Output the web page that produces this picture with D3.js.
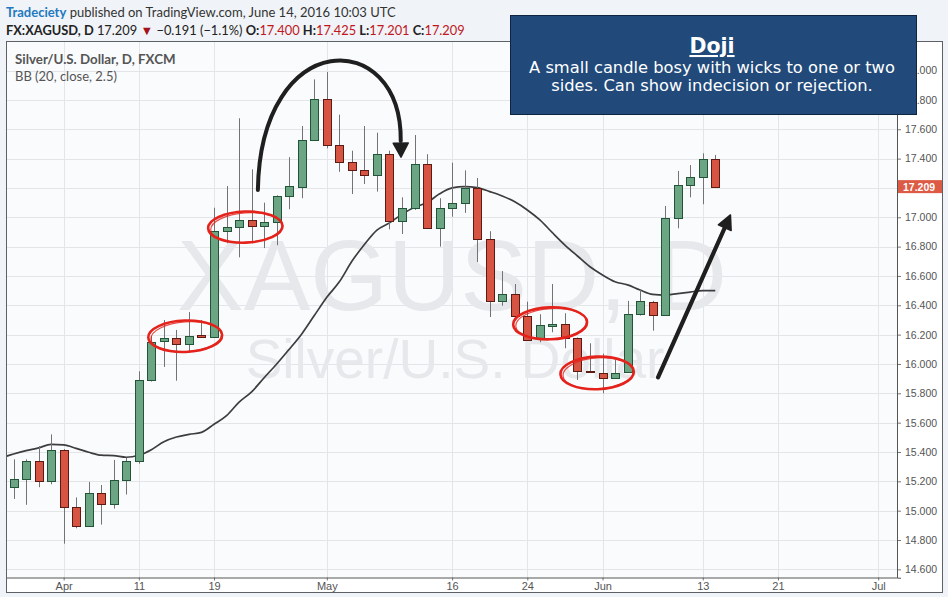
<!DOCTYPE html>
<html><head><meta charset="utf-8">
<script src="https://cdn.jsdelivr.net/npm/d3@7/dist/d3.min.js"></script>
<style>
html,body{margin:0;padding:0;background:#f0f3f7;}
svg{display:block;}
</style></head><body>
<svg id="c" width="948" height="597"></svg>
<script>
// ---------------- DATA ----------------
const dates = ["2016-03-28","2016-03-29","2016-03-30","2016-03-31","2016-04-01",
"2016-04-04","2016-04-05","2016-04-06","2016-04-07","2016-04-08",
"2016-04-11","2016-04-12","2016-04-13","2016-04-14","2016-04-15",
"2016-04-18","2016-04-19","2016-04-20","2016-04-21","2016-04-22",
"2016-04-25","2016-04-26","2016-04-27","2016-04-28","2016-04-29",
"2016-05-02","2016-05-03","2016-05-04","2016-05-05","2016-05-06",
"2016-05-09","2016-05-10","2016-05-11","2016-05-12","2016-05-13",
"2016-05-16","2016-05-17","2016-05-18","2016-05-19","2016-05-20",
"2016-05-23","2016-05-24","2016-05-25","2016-05-26","2016-05-27",
"2016-05-30","2016-05-31","2016-06-01","2016-06-02","2016-06-03",
"2016-06-06","2016-06-07","2016-06-08","2016-06-09","2016-06-10",
"2016-06-13","2016-06-14"];
const openVals  = [15.164,15.214,15.337,15.200,15.412, 15.023,14.894,15.119,15.044,15.209,
 15.337,15.891,16.157,16.175,16.134, 16.195,16.186,16.909,16.932,16.980,
 16.939,16.966,17.145,17.209,17.527, 17.804,17.490,17.375,17.320,17.286,
 17.430,16.973,17.061,17.361,16.925, 17.061,17.095,17.200,16.850,16.427,
 16.475,16.325,16.179,16.260,16.270, 16.175,15.950,15.940,15.905,15.943,
 16.339,16.425,16.334,16.993,17.218, 17.273,17.400];
const highVals  = [15.350,15.350,15.440,15.520,15.420, 15.090,15.196,15.175,15.346,15.360,
 15.950,16.190,16.300,16.232,16.354, 16.300,17.065,17.213,17.675,17.327,
 17.100,17.150,17.410,17.622,17.940, 17.990,17.700,17.454,17.622,17.577,
 17.454,17.136,17.561,17.430,17.130, 17.372,17.320,17.268,16.905,16.634,
 16.545,16.425,16.339,16.545,16.346, 16.180,16.141,16.070,16.027,16.430,
 16.504,16.430,17.077,17.316,17.356, 17.436,17.425];
const lowVals   = [15.080,15.040,15.160,15.180,14.775, 14.880,14.890,14.905,15.014,15.110,
 15.320,15.880,15.980,15.886,16.077, 16.180,16.180,16.823,16.727,16.823,
 16.790,16.810,17.055,17.130,17.520, 17.470,17.310,17.159,17.227,17.175,
 16.918,16.886,17.050,16.920,16.800, 17.004,17.030,16.695,16.320,16.397,
 16.320,16.160,16.148,16.216,16.107, 15.891,15.945,15.800,15.900,15.940,
 16.330,16.227,16.330,16.925,17.136, 17.089,17.201];
const closeVals = [15.214,15.337,15.200,15.412,15.023, 14.894,15.119,15.044,15.209,15.337,
 15.891,16.152,16.175,16.134,16.190, 16.185,16.909,16.932,16.980,16.939,
 16.966,17.145,17.213,17.527,17.804, 17.490,17.375,17.320,17.286,17.430,
 16.973,17.061,17.361,16.925,17.061, 17.095,17.200,16.850,16.427,16.475,
 16.325,16.166,16.264,16.270,16.175, 15.952,15.945,15.905,15.940,16.339,
 16.427,16.334,16.993,17.218,17.273, 17.400,17.209];
// BB basis (20 SMA) line, starting one bar before the first candle
const maStartIndex = -1;
const maValues = [15.360,15.386,15.409,15.428,15.452,15.448,15.425,15.398,15.378,15.375,
 15.364,15.378,15.416,15.470,15.502,15.520,15.534,15.589,15.648,15.740,
 15.810,15.906,16.000,16.100,16.205,16.330,16.455,16.560,16.700,16.815,
 16.913,16.962,17.020,17.068,17.100,17.160,17.200,17.209,17.202,17.175,
 17.145,17.106,17.050,16.982,16.895,16.811,16.736,16.663,16.607,16.561,
 16.539,16.504,16.475,16.470,16.480,16.490,16.500,16.500];
const yTicks = [14.6,14.8,15.0,15.2,15.4,15.6,15.8,16.0,16.2,16.4,16.6,16.8,17.0,17.2,17.4,17.6,17.8,18.0];
const xTickDates  = ["2016-04-01","2016-04-11","2016-04-19","2016-05-02","2016-05-16","2016-05-24","2016-06-01","2016-06-13","2016-06-21","2016-07-01"];
const xTickLabels = ["Apr","11","19","May","16","24","Jun","13","21","Jul"];
const lastPrice = 17.209;

// ---------------- HELPERS ----------------
const day0 = new Date(dates[0]+"T00:00:00Z");
function tIndex(s){
  const d = new Date(s+"T00:00:00Z"); let n = 0;
  for (let t = new Date(day0); t < d; t.setUTCDate(t.getUTCDate()+1)) {
    const w = t.getUTCDay(); if (w !== 0 && w !== 6) n++;
  }
  return n;
}
const candles = dates.map((d,i)=>({i:tIndex(d), o:openVals[i], h:highVals[i], l:lowVals[i], c:closeVals[i]}));
const maPts = maValues.map((v,k)=>({i:maStartIndex+k, v}));

// ---------------- LAYOUT ----------------
const svg = d3.select("#c");
const P = {l:7, r:897, t:42, b:577.5};
const x = d3.scaleLinear().domain([-0.52, 70.5]).range([P.l, P.r]);
const y = d3.scaleLinear().domain([14.543, 18.197]).range([577.7, 41.7]);

svg.append("rect").attr("width",948).attr("height",597).attr("fill","#f0f3f7");
svg.append("rect").attr("x",6.5).attr("y",41.5).attr("width",936).attr("height",551)
  .attr("fill","#ffffff").attr("stroke","#5d6166").attr("stroke-width",1);
svg.append("rect").attr("x",P.l).attr("y",P.t).attr("width",P.r-P.l).attr("height",P.b-P.t).attr("fill","#fafbfd");

svg.append("defs").append("clipPath").attr("id","pc").append("rect")
  .attr("x",P.l).attr("y",P.t).attr("width",P.r-P.l).attr("height",P.b-P.t);
const g = svg.append("g").attr("clip-path","url(#pc)");

// grid
g.selectAll(".hg").data(yTicks).join("line")
  .attr("x1",P.l).attr("x2",P.r)
  .attr("y1",d=>Math.round(y(d))+0.5).attr("y2",d=>Math.round(y(d))+0.5)
  .attr("stroke","#e3e5e9").attr("stroke-width",1);
const xTickIdx = xTickDates.map(tIndex);
g.selectAll(".vg").data(xTickIdx).join("line")
  .attr("y1",P.t).attr("y2",P.b)
  .attr("x1",d=>Math.round(x(d))+0.5).attr("x2",d=>Math.round(x(d))+0.5)
  .attr("stroke","#e3e5e9").attr("stroke-width",1);

// watermark
const cx = (P.l+P.r)/2;
g.append("text").attr("x",cx).attr("y",310).attr("text-anchor","middle")
  .attr("font-family","Liberation Sans, Arial, sans-serif").attr("font-size",100)
  .attr("fill","#e6e8eb").text("XAGUSD, D");
g.append("text").attr("x",cx+3).attr("y",378).attr("text-anchor","middle")
  .attr("font-family","Liberation Sans, Arial, sans-serif").attr("font-size",55)
  .attr("fill","#e6e8eb").text("Silver/U.S. Dollar");

// MA line
g.append("path").datum(maPts)
  .attr("d", d3.line().x(d=>x(d.i)).y(d=>y(d.v)).curve(d3.curveMonotoneX))
  .attr("fill","none").attr("stroke","#3d3d3f").attr("stroke-width",1.7);

// candles
const up = {fill:"#6ba583", stroke:"#225437"}, dn = {fill:"#d75442", stroke:"#5b1a13"};
const cg = g.selectAll(".cd").data(candles).join("g");
cg.append("line")
  .attr("x1",d=>Math.round(x(d.i))+0.5).attr("x2",d=>Math.round(x(d.i))+0.5)
  .attr("y1",d=>y(d.h)).attr("y2",d=>y(d.l))
  .attr("stroke","#737375").attr("stroke-width",1);
cg.append("rect")
  .attr("x",d=>Math.round(x(d.i))-3.5).attr("width",8)
  .attr("y",d=>Math.round(y(Math.max(d.o,d.c)))+0.5)
  .attr("height",d=>Math.max(1, Math.round(y(Math.min(d.o,d.c)))-Math.round(y(Math.max(d.o,d.c)))))
  .attr("fill",d=>d.c>=d.o?up.fill:dn.fill)
  .attr("stroke",d=>d.c>=d.o?up.stroke:dn.stroke).attr("stroke-width",1);

// ---------------- AXES ----------------
const ya = svg.append("g").attr("transform",`translate(${P.r},0)`)
  .call(d3.axisRight(y).tickValues(yTicks).tickFormat(d3.format(".3f")).tickSize(4).tickPadding(4));
ya.select(".domain").attr("stroke","#555");
ya.selectAll(".tick line").attr("stroke","#777");
ya.selectAll(".tick text").attr("fill","#555").attr("font-size",10.5).attr("font-family","Liberation Sans, Arial, sans-serif");
// the tick label hidden under the last-price label
ya.selectAll(".tick").filter(d=>Math.abs(y(d)-y(lastPrice))<12).select("text").remove();
svg.append("line").attr("x1",P.r+0.5).attr("x2",P.r+0.5).attr("y1",42).attr("y2",578).attr("stroke","#555");

const xa = svg.append("g").attr("transform",`translate(0,${P.b})`)
  .call(d3.axisBottom(x).tickValues(xTickIdx).tickFormat((d,i)=>xTickLabels[i]).tickSize(3).tickPadding(2));
xa.select(".domain").remove();
xa.selectAll(".tick line").attr("stroke","#777");
xa.selectAll(".tick text").attr("fill","#555").attr("font-size",11).attr("font-family","Liberation Sans, Arial, sans-serif");
svg.append("line").attr("x1",P.l).attr("x2",P.r).attr("y1",P.b+0.5).attr("y2",P.b+0.5).attr("stroke","#555");

// last price label
const lp = y(lastPrice);
svg.append("rect").attr("x",P.r+1).attr("y",lp-6.5).attr("width",942-P.r-1).attr("height",13).attr("fill","#dd5a44");
svg.append("text").attr("x",P.r+6).attr("y",lp+4).attr("fill","#fff").attr("font-weight","bold")
  .attr("font-size",10.5).attr("font-family","Liberation Sans, Arial, sans-serif").text(d3.format(".3f")(lastPrice));

// ---------------- ANNOTATIONS (data units) ----------------
const ellipses = [
  {i:13.70, p:16.189, ri:2.95, rp:0.107},
  {i:18.50, p:16.933, ri:2.97, rp:0.106},
  {i:42.82, p:16.277, ri:2.95, rp:0.109},
  {i:46.57, p:15.939, ri:2.93, rp:0.111}
];
ellipses.forEach(e=>{
  const ex=x(e.i), ey=y(e.p), rx=x(e.i+e.ri)-ex, ry=y(e.p-e.rp)-ey;
  svg.append("ellipse").attr("cx",ex).attr("cy",ey).attr("rx",rx).attr("ry",ry)
    .attr("transform",`rotate(-2,${ex},${ey})`)
    .attr("fill","none").attr("stroke","#e4231c").attr("stroke-width",2.6);
  svg.append("ellipse").attr("cx",ex+1).attr("cy",ey+0.5).attr("rx",rx-1.5).attr("ry",ry-0.8)
    .attr("transform",`rotate(-4,${ex},${ey})`)
    .attr("fill","none").attr("stroke","#e4231c").attr("stroke-width",1.2).attr("opacity",0.8);
});

function arrowHead(tip, dir, len, wid){
  const n = Math.hypot(dir[0],dir[1]); const ux=dir[0]/n, uy=dir[1]/n;
  const bx = tip[0]-len*ux, by = tip[1]-len*uy;
  const px=-uy, py=ux;
  return `M${tip[0]},${tip[1]}L${bx+px*wid/2},${by+py*wid/2}L${bx-px*wid/2},${by-py*wid/2}Z`;
}
// curved arrow
const ca = {s:[19.50,17.186], c1:[19.70,18.30], c2:[31.0,18.30], e:[30.90,17.52], tip:[30.92,17.41]};
const P0=[x(ca.s[0]),y(ca.s[1])], C1=[x(ca.c1[0]),y(ca.c1[1])], C2=[x(ca.c2[0]),y(ca.c2[1])], E=[x(ca.e[0]),y(ca.e[1])], T=[x(ca.tip[0]),y(ca.tip[1])];
svg.append("path").attr("d",`M${P0}C${C1} ${C2} ${E}`).attr("fill","none")
  .attr("stroke","#1f1f1f").attr("stroke-width",4).attr("stroke-linecap","round");
svg.append("path").attr("d",arrowHead(T,[T[0]-E[0],T[1]-E[1]],14,15)).attr("fill","#1f1f1f")
  .attr("stroke","#1f1f1f").attr("stroke-width",1.5).attr("stroke-linejoin","round");
// straight arrow
const sa = {s:[51.43,15.909], tip:[57.21,17.016]};
const S0=[x(sa.s[0]),y(sa.s[1])], ST=[x(sa.tip[0]),y(sa.tip[1])];
const sl = Math.hypot(ST[0]-S0[0],ST[1]-S0[1]);
const SE=[ST[0]-(ST[0]-S0[0])*11/sl, ST[1]-(ST[1]-S0[1])*11/sl];
svg.append("line").attr("x1",S0[0]).attr("y1",S0[1]).attr("x2",SE[0]).attr("y2",SE[1])
  .attr("stroke","#1f1f1f").attr("stroke-width",4.2).attr("stroke-linecap","round");
svg.append("path").attr("d",arrowHead(ST,[ST[0]-S0[0],ST[1]-S0[1]],14,14)).attr("fill","#1f1f1f")
  .attr("stroke","#1f1f1f").attr("stroke-width",1.5).attr("stroke-linejoin","round");

// info box
svg.append("rect").attr("x",510.5).attr("y",15.5).attr("width",406).attr("height",99)
  .attr("fill","#214a7b").attr("stroke","#0e2440").attr("stroke-width",1);
svg.append("text").attr("x",712).attr("y",53).attr("text-anchor","middle").attr("fill","#fff")
  .attr("font-family","DejaVu Sans, sans-serif").attr("font-weight","bold").attr("font-size",20.5)
  .attr("text-decoration","underline").text("Doji");
svg.append("text").attr("x",712).attr("y",73).attr("text-anchor","middle").attr("fill","#fff")
  .attr("font-family","DejaVu Sans, sans-serif").attr("font-size",16.3).text("A small candle bosy with wicks to one or two");
svg.append("text").attr("x",712).attr("y",90.5).attr("text-anchor","middle").attr("fill","#fff")
  .attr("font-family","DejaVu Sans, sans-serif").attr("font-size",16.3).text("sides. Can show indecision or rejection.");

// ---------------- HEADER / LEGEND ----------------
function fit(sel, target){
  const w = sel.node().getComputedTextLength();
  const fs = parseFloat(sel.attr("font-size"));
  sel.attr("font-size", fs*target/w);
}
const HF = "Lato, 'Open Sans', sans-serif";
const h1 = svg.append("text").attr("x",6).attr("y",17).attr("font-family",HF).attr("font-size",13).attr("fill","#333");
h1.append("tspan").attr("fill","#2279c0").attr("font-weight","bold").text("Tradeciety");
h1.append("tspan").text(" published on TradingView.com, June 14, 2016 10:03 UTC");
fit(h1, 390);
const h2 = svg.append("text").attr("x",6).attr("y",34.5).attr("font-family",HF).attr("font-size",13).attr("fill","#222");
h2.append("tspan").attr("font-weight","bold").text("FX:XAGUSD, D");
h2.append("tspan").text(" 17.209 ");
h2.append("tspan").attr("fill","#a3121a").text("▼");
h2.append("tspan").text(" \u22120.191 (\u22121.1%) ");
[["O:","17.400"],["H:","17.425"],["L:","17.201"],["C:","17.209"]].forEach((p,k)=>{
  h2.append("tspan").attr("font-weight","bold").text((k?" ":"")+p[0]);
  h2.append("tspan").attr("fill","#c0161c").text(p[1]);
});
fit(h2, 459);

const l1 = svg.append("text").attr("x",15).attr("y",64.3).attr("font-family",HF).attr("font-weight","bold")
  .attr("font-size",12).attr("fill","#555").text("Silver/U.S. Dollar, D, FXCM");
fit(l1, 160.7);
const l2 = svg.append("text").attr("x",15).attr("y",81).attr("font-family",HF)
  .attr("font-size",12).attr("fill","#555").text("BB (20, close, 2.5)");
fit(l2, 102);
</script>
</body></html>
